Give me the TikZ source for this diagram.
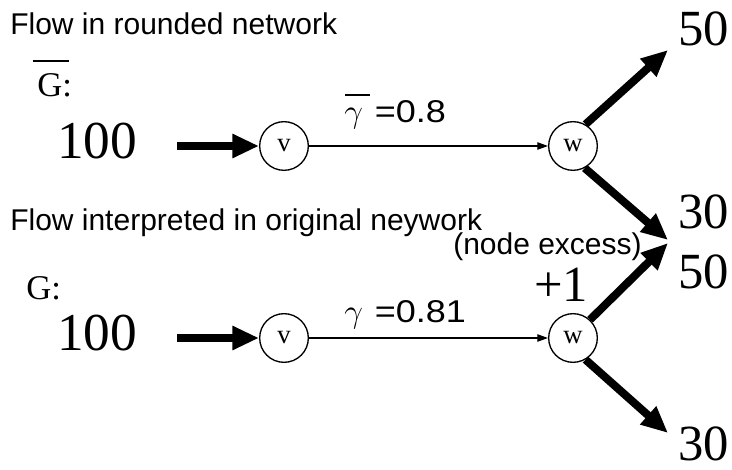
\documentclass[tikz,border=0pt]{standalone}
\usepackage{fontspec}
\setmainfont{Liberation Serif}
\newfontfamily\labelfont{Liberation Sans}
\usetikzlibrary{arrows.meta,positioning,calc}

\newcommand{\gainlabel}[1]{{\fontsize{31}{31}\selectfont$\gamma$}\hspace{9pt}\scalebox{1.2}[1.05]{#1}}

\tikzset{
    vert/.style={draw, circle, line width=1pt, minimum size=36.5pt, inner sep=0pt,
        font=\fontsize{20}{20}\selectfont},
    flow/.style={line width=6pt, -{Triangle[length=20pt,width=17pt]}},
    gain/.style={line width=0.9pt, -{Triangle[length=8pt,width=5.5pt]}},
    amount/.style={anchor=base west, inner sep=0pt, font=\fontsize{38}{38}\selectfont},
    caption/.style={anchor=base west, inner sep=0pt, font=\labelfont\fontsize{22.5}{22.5}\selectfont},
    graphname/.style={anchor=base west, inner sep=0pt, font=\fontsize{26}{26}\selectfont},
    bar/.style={line width=1.5pt},
}

\begin{document}
\begin{tikzpicture}[x=0.75pt, y=-0.75pt]
    \useasboundingbox (0,0) rectangle (732,470);

    % rounded network
    \node[caption] (title1) at (10,35) {Flow in rounded network};
    \node[graphname] (gbar) at (37,97) {G:};
    \draw[bar] (33,61) -- (69,61);
    \node[amount, font=\fontsize{40}{40}\selectfont] (src1) at (57,159) {100};

    \node[vert] (v1) at (284,146) {v};
    \node[vert] (w1) at (573,146) {w};
    \coordinate (s1) at (177,146);
    \draw[flow] (s1) -- (v1);
    \draw[gain] (v1) -- (w1);
    \node[caption] (gam1) at (344,123) {\gainlabel{=0.8}};
    \draw[bar] (345,95) -- (370,95);

    \coordinate (t1) at (668,50);
    \coordinate (t2) at (668,240);
    \draw[flow] (w1.60) -- (t1);
    \draw[flow] (w1.-62) -- (t2);
    \node[amount] (out1) at (678,46) {50};
    \node[amount] (out2) at (678,229) {30};

    % original network
    \node[caption] (title2) at (10,231) {Flow interpreted in original neywork};
    \node[caption] (excess) at (453,255) {(node excess)};
    \node[graphname] (g) at (26,300) {G:};
    \node[amount, font=\fontsize{40}{40}\selectfont] (src2) at (57,351) {100};

    \node[vert] (v2) at (284,338) {v};
    \node[vert] (w2) at (573,338) {w};
    \coordinate (s2) at (177,338);
    \draw[flow] (s2) -- (v2);
    \draw[gain] (v2) -- (w2);
    \node[caption] (gam2) at (344,323) {\gainlabel{=0.81}};
    \node[amount] (plus) at (534,302) {+1};

    \coordinate (t3) at (668,243);
    \coordinate (t4) at (668,433);
    \draw[flow] (w2.47) -- (t3);
    \draw[flow] (w2.-60) -- (t4);
    \node[amount] (out3) at (678,289) {50};
    \node[amount] (out4) at (678,460) {30};
\end{tikzpicture}
\end{document}
